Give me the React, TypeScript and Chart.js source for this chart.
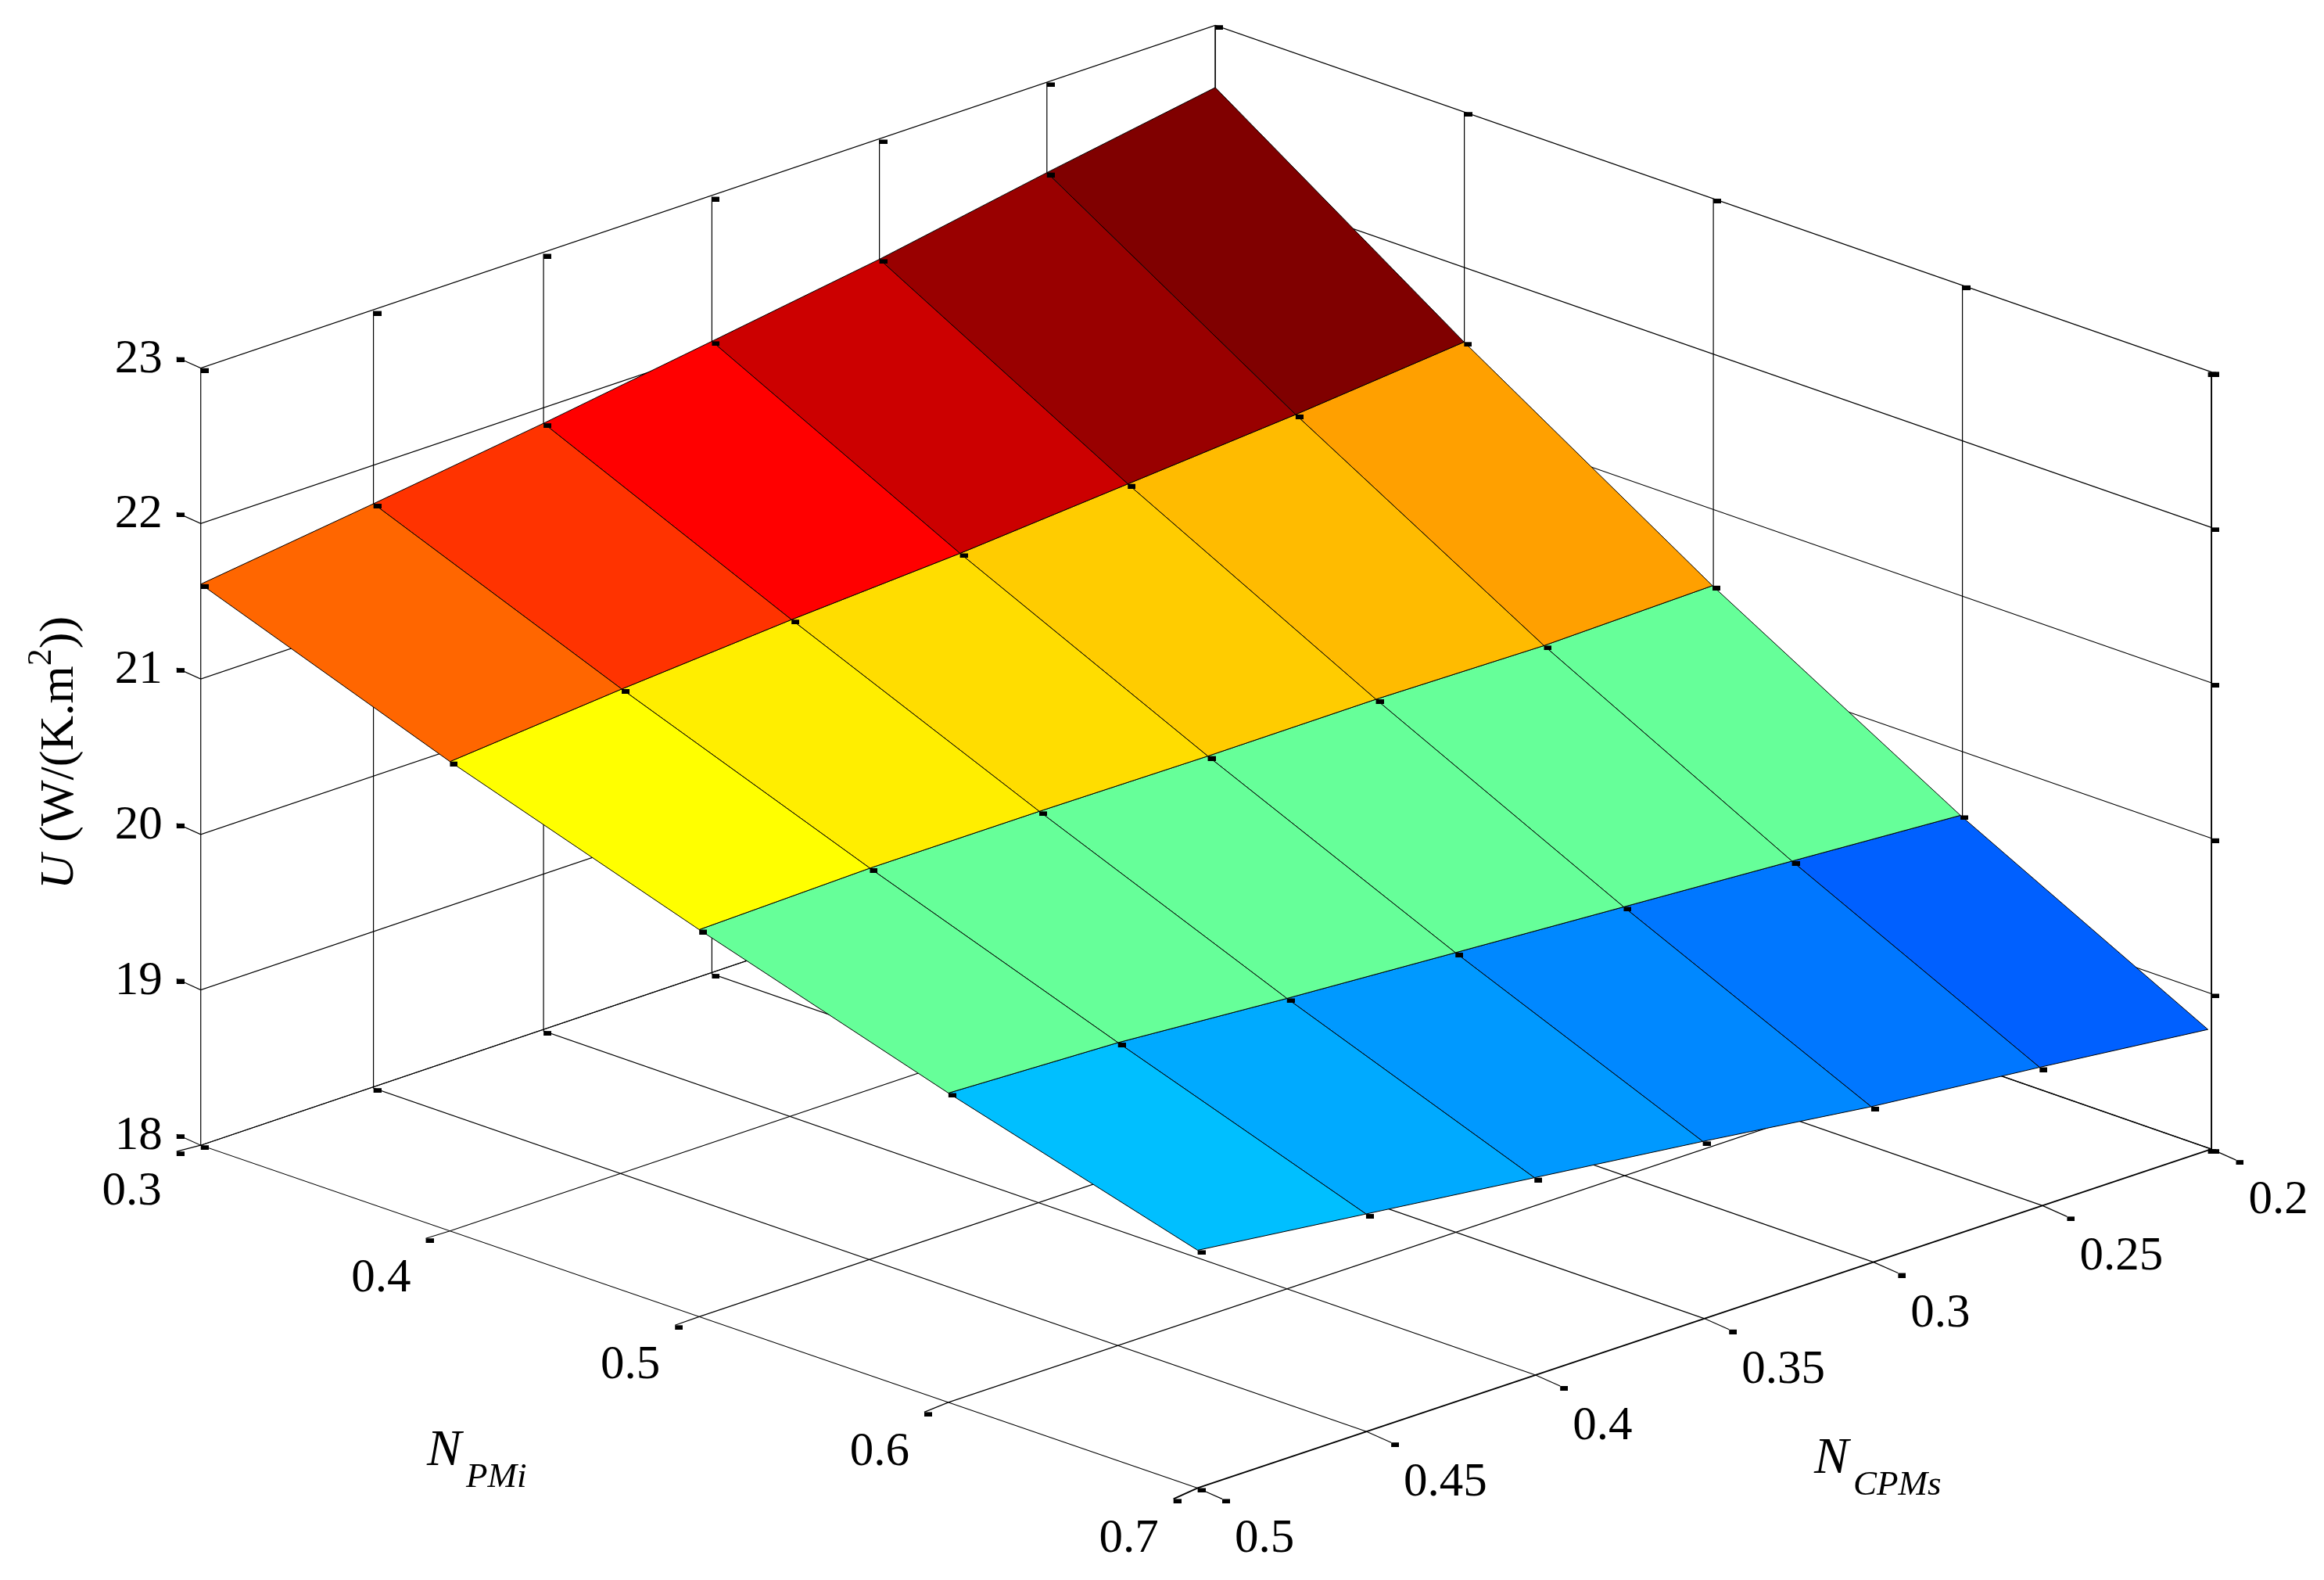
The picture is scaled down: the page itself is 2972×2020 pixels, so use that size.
import React, { useEffect, useRef } from "react";
import { Chart, registerables } from "chart.js";

Chart.register(...registerables);

// ---- data ----
const npmiTicks = [0.3, 0.4, 0.5, 0.6, 0.7];
const ncpmsTicks = [0.5, 0.45, 0.4, 0.35, 0.3, 0.25, 0.2];
const uTicks = [18, 19, 20, 21, 22, 23];

const uAtNpmi03 = [21.61, 21.76, 21.91, 22.07, 22.23, 22.42, 22.6];
const uAtNpmi04 = [21.02, 21.12, 21.2, 21.26, 21.34, 21.42, 21.52];
const uAtNpmi05 = [20.49, 20.52, 20.52, 20.51, 20.51, 20.49, 20.51];
const uAtNpmi06 = [19.99, 19.95, 19.87, 19.8, 19.73, 19.66, 19.59];
const uAtNpmi07 = [19.53, 19.4, 19.27, 19.14, 19.0, 18.89, 18.77];
const uRows = [uAtNpmi03, uAtNpmi04, uAtNpmi05, uAtNpmi06, uAtNpmi07];

const cellColorsRow1 = ["#ff6600", "#ff3300", "#ff0000", "#cc0000", "#990000", "#800000"];
const cellColorsRow2 = ["#ffff00", "#ffee00", "#ffdd00", "#ffcc00", "#ffbb00", "#ffa000"];
const cellColorsRow3 = ["#66ff99", "#66ff99", "#66ff99", "#66ff99", "#66ff99", "#66ff99"];
const cellColorsRow4 = ["#00bfff", "#00aaff", "#0099ff", "#0088ff", "#0077ff", "#0060ff"];
const cellColors = [cellColorsRow1, cellColorsRow2, cellColorsRow3, cellColorsRow4];

// ---- view of the 3D box (parallel projection with a slight perspective warp) ----
const WIDTH = 2972;
const HEIGHT = 2020;
const ORIGIN = { x: 253.4, y: 1466 }; // NPMi 0.3, NCPMs 0.5, U 18
const NPMI_SPAN = { x: 1278.3, y: 440 }; // NPMi 0.3 -> 0.7
const NCPMS_SPAN = { x: 1300, y: -435 }; // NCPMs 0.5 -> 0.2
const U_UNIT = 199.5;

type P = { x: number; y: number };

function project(npmi: number, ncpms: number, u: number): P {
  const a = (npmi - 0.3) / 0.4;
  const b = (0.5 - ncpms) / 0.3;
  return {
    x:
      ORIGIN.x +
      a * NPMI_SPAN.x +
      b * NCPMS_SPAN.x +
      (1 - a) * (40 * (1 - b) * (1 - b) * b + 0.9 * b),
    y: ORIGIN.y + a * NPMI_SPAN.y + b * NCPMS_SPAN.y - (1 - a) * b * 5 - (u - 18) * U_UNIT,
  };
}

function projectSurface(npmi: number, ncpms: number, u: number): P {
  const a = (npmi - 0.3) / 0.4;
  const b = (0.5 - ncpms) / 0.3;
  const p = project(npmi, ncpms, u);
  return { x: p.x - 4.5 * a * a * b, y: p.y };
}

const shift = (p: P, dx: number, dy: number): P => ({ x: p.x + dx, y: p.y + dy });

// outer ends of the axis ticks
const npmiTickEnd = (n: number) => shift(project(n, 0.5, 18), -31, 8 + (6 * (n - 0.3)) / 0.4);
const ncpmsTickEnd = (c: number) => shift(project(0.7, c, 18), 31.5, 14);
const uTickEnd = (u: number) => shift(project(0.3, 0.5, u), -31, -14);

function labelPlugin() {
  return {
    id: "labels3d",
    afterDraw(chart: any) {
      const { ctx, scales } = chart;
      const px = (p: P) => ({
        x: scales.x.getPixelForValue(p.x),
        y: scales.y.getPixelForValue(p.y),
      });
      const SERIF = '"Liberation Serif"';
      ctx.save();
      ctx.fillStyle = "#000";
      ctx.textBaseline = "alphabetic";
      ctx.font = `61px ${SERIF}`;

      ctx.textAlign = "right";
      uTicks.forEach((u) => {
        const p = px(uTickEnd(u));
        ctx.fillText(String(u), p.x - 18, p.y + 19);
      });
      npmiTicks.forEach((n) => {
        const p = px(npmiTickEnd(n));
        ctx.fillText(String(n), p.x - 19, p.y + 68);
      });
      ctx.textAlign = "left";
      ncpmsTicks.forEach((c) => {
        const p = px(ncpmsTickEnd(c));
        ctx.fillText(String(c), p.x + 16, p.y + 68);
      });

      // axis titles
      const withSub = (x: number, y: number, main: string, sub: string) => {
        ctx.font = `italic 66px ${SERIF}`;
        ctx.fillText(main, x, y);
        const w = ctx.measureText(main).width;
        ctx.font = `italic 45px ${SERIF}`;
        ctx.fillText(sub, x + w + 6, y + 28);
      };
      withSub(546, 1873, "N", "PMi");
      withSub(2320, 1883, "N", "CPMs");

      // vertical title
      ctx.translate(93, 1137);
      ctx.rotate(-Math.PI / 2);
      let cursor = 0;
      const piece = (txt: string, font: string, dy = 0) => {
        ctx.font = font;
        ctx.fillText(txt, cursor, dy);
        cursor += ctx.measureText(txt).width;
      };
      piece("U", `italic 62px ${SERIF}`);
      piece(" (W/(K.m", `62px ${SERIF}`);
      piece("2", `44px ${SERIF}`, -28);
      piece("))", `62px ${SERIF}`);
      ctx.restore();
    },
  };
}

export default function App() {
  const ref = useRef<HTMLCanvasElement | null>(null);
  useEffect(() => {
    document.body.style.margin = "0";
    document.body.style.background = "#fff";

    const marker = document.createElement("canvas");
    marker.width = 20;
    marker.height = 12;
    const mctx = marker.getContext("2d")!;
    mctx.fillStyle = "#000";
    mctx.fillRect(10, 6, 10, 6);

    const base = {
      type: "scatter",
      showLine: true,
      pointRadius: 0,
      pointHoverRadius: 0,
      tension: 0,
      clip: false,
    };
    const datasets: any[] = [];
    const gridLine = (data: P[], width = 1.2) => ({
      ...base,
      order: 10,
      borderColor: "#000",
      borderWidth: width,
      fill: false,
      data,
    });

    // box grid
    npmiTicks.forEach((n) => {
      datasets.push(
        gridLine(
          [npmiTickEnd(n), project(n, 0.5, 18), project(n, 0.2, 18), project(n, 0.2, 23)],
          n === 0.7 ? 1.9 : 1.2
        )
      );
    });
    ncpmsTicks.forEach((c) => {
      datasets.push(gridLine([ncpmsTickEnd(c), project(0.7, c, 18), project(0.3, c, 18), project(0.3, c, 23)]));
    });
    uTicks.forEach((u) => {
      datasets.push(gridLine([uTickEnd(u), project(0.3, 0.5, u), project(0.3, 0.2, u), project(0.7, 0.2, u)]));
    });

    // markers on the box and at the ends of the ticks
    const boxMarkers = [
      ...uTicks.map(uTickEnd),
      ...uTicks.map((u) => project(0.7, 0.2, u)),
      shift(project(0.7, 0.2, 18), -4.5, 0),
      shift(project(0.7, 0.2, 23), -4.5, 0),
      ...npmiTicks.map(npmiTickEnd),
      ...ncpmsTicks.map(ncpmsTickEnd),
      ...npmiTicks.map((n) => project(n, 0.2, 23)),
      ...ncpmsTicks.map((c) => project(0.3, c, 23)),
      ...ncpmsTicks.map((c) => project(0.3, c, 18)),
      project(0.7, 0.5, 18),
    ];
    datasets.push({
      ...base,
      order: 9,
      showLine: false,
      pointRadius: 3,
      pointStyle: marker,
      data: boxMarkers,
    });

    // surface cells
    for (let i = 0; i < npmiTicks.length - 1; i++) {
      for (let j = 0; j < ncpmsTicks.length - 1; j++) {
        const a = projectSurface(npmiTicks[i], ncpmsTicks[j], uRows[i][j]);
        const b = projectSurface(npmiTicks[i], ncpmsTicks[j + 1], uRows[i][j + 1]);
        const c = projectSurface(npmiTicks[i + 1], ncpmsTicks[j + 1], uRows[i + 1][j + 1]);
        const d = projectSurface(npmiTicks[i + 1], ncpmsTicks[j], uRows[i + 1][j]);
        datasets.push({
          ...base,
          order: 5,
          borderColor: "#000",
          borderWidth: 1,
          backgroundColor: cellColors[i][j],
          fill: "shape",
          data: [a, b, c, d, a],
        });
      }
    }

    // markers on the surface vertices
    const surfaceMarkers: P[] = [];
    npmiTicks.forEach((n, i) => {
      ncpmsTicks.forEach((c, j) => {
        const skip = j === ncpmsTicks.length - 1 && (i === 0 || i === npmiTicks.length - 1);
        if (!skip) surfaceMarkers.push(projectSurface(n, c, uRows[i][j]));
      });
    });
    datasets.push({
      ...base,
      order: 1,
      showLine: false,
      pointRadius: 3,
      pointStyle: marker,
      data: surfaceMarkers,
    });

    const chart = new Chart(ref.current!, {
      type: "scatter",
      data: { datasets },
      options: {
        animation: false,
        responsive: false,
        maintainAspectRatio: false,
        devicePixelRatio: 1,
        layout: { padding: 0 },
        events: [],
        plugins: { legend: { display: false }, tooltip: { enabled: false }, title: { display: false } },
        scales: {
          x: { type: "linear", display: false, min: 0, max: WIDTH },
          y: { type: "linear", display: false, min: 0, max: HEIGHT, reverse: true },
        },
      },
      plugins: [labelPlugin()],
    } as any);
    return () => chart.destroy();
  }, []);

  return (
    <canvas
      ref={ref}
      width={WIDTH}
      height={HEIGHT}
      style={{ position: "absolute", left: 0, top: 0, width: WIDTH, height: HEIGHT, display: "block" }}
    />
  );
}
